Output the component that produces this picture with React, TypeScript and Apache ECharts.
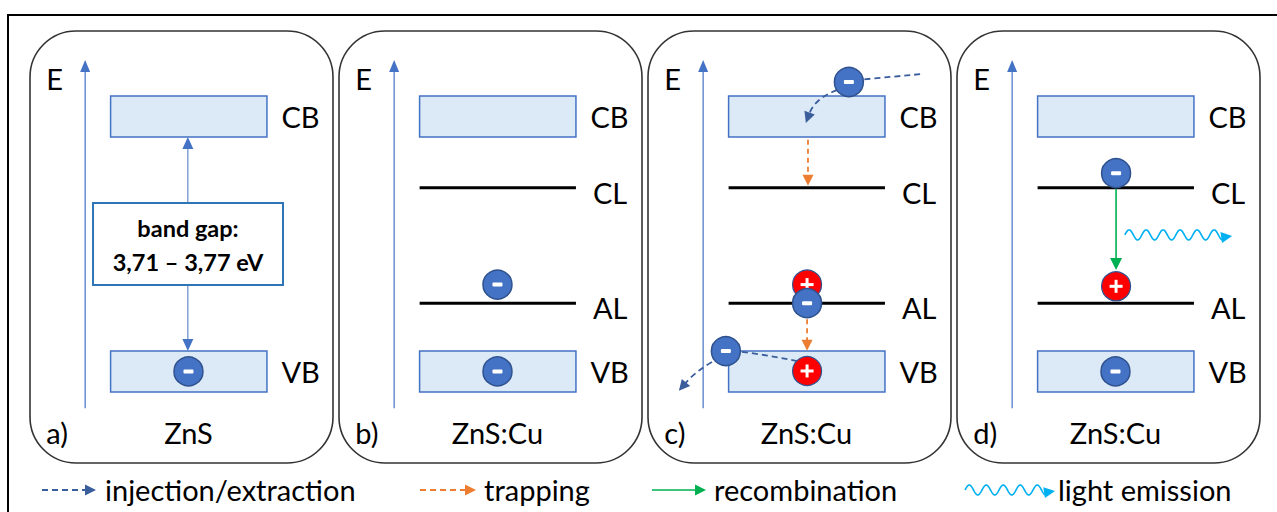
import React, { useEffect, useRef } from "react";
import * as echarts from "echarts";

// ---------------- data (diagram units: x 0..100 across a panel, E 0..100 bottom→top) ----------------
const panelTags = ["a)", "b)", "c)", "d)"];
const materials = ["ZnS", "ZnS:Cu", "ZnS:Cu", "ZnS:Cu"];
const bandNames = ["CB", "VB"];
const bandEnergies = [80.2, 21.2];
const bandHalfHeight = 4.75;
const levelNames = ["CL", "AL"];
const levelEnergies = [63.7, 37.0];
const dopedPanels = [1, 2, 3];
const stateSpan = [26.6, 78.2];
const stateLabelX = 83;
const energyAxisX = 18.2;
const energyAxisRange = [12.7, 93.3];
const energyLabel = "E";
const energyLabelPos = [5.4, 89.1];
const captionE = 7.0;
const tagX = 5.4;
const materialX = 52.3;

// carriers: [panel, x, E]
const electrons = [
  [0, 52.3, 21.2],
  [1, 52.3, 41.3],
  [1, 52.3, 21.2],
  [2, 66.3, 88.2],
  [2, 52.5, 37.0],
  [2, 25.7, 25.9],
  [3, 52.5, 67.1],
  [3, 52.3, 21.2],
];
const holes = [
  [2, 52.5, 41.3],
  [2, 52.5, 21.3],
  [3, 52.5, 40.9],
];

// band gap box in panel a: [x0, x1, E0, E1]
const gapBox = [20.8, 83.5, 41.2, 60.2];
const gapText = ["band gap:", "3,71 – 3,77 eV"];
const gapTextE = [54.4, 46.6];
// band gap arrows: [panel, x, Efrom, Eto]
const gapArrows = [
  [0, 52.1, 60.2, 75.45],
  [0, 52.1, 41.2, 25.95],
];

// injection / extraction (quadratic curves): [panel, x0, E0, cx, cE, x1, E1, arrowhead]
const injection = [
  [2, 89.8, 90.0, 80.5, 89.4, 71.0, 88.8, 0],
  [2, 62.4, 86.3, 55.1, 84.5, 52.1, 78.7, 1],
  [2, 49.2, 23.6, 40.0, 24.9, 30.4, 25.8, 0],
  [2, 21.1, 23.4, 15.5, 21.1, 10.2, 16.7, 1],
];
// trapping: [panel, x, Efrom, Eto]
const trapping = [
  [2, 52.8, 74.8, 64.2],
  [2, 52.5, 33.3, 26.0],
];
// recombination: [panel, x, Efrom, Eto]
const recombination = [[3, 52.5, 63.5, 44.7]];
// light emission: [panel, xFrom, xTo, E]
const lightEmission = [[3, 55.4, 90.8, 52.8]];

const legendNames = ["injection/extraction", "trapping", "recombination", "light emission"];

// ---------------- styles ----------------
const FONT = "Lato, 'Open Sans', sans-serif";
const C_BAND_FILL = "#DCE9F7";
const C_BLUE = "#4472C4";
const C_DARKBLUE = "#2F528F";
const C_INJ = "#3A5D9C";
const C_TRAP = "#ED7D31";
const C_REC = "#00B050";
const C_LIGHT = "#00B0F0";
const C_GAPBOX = "#2E75B6";

type Pt = [number, number];

function headPoly(tip: Pt, from: Pt, len: number, half: number): Pt[] {
  const dx = tip[0] - from[0];
  const dy = tip[1] - from[1];
  const L = Math.hypot(dx, dy) || 1;
  const ux = dx / L;
  const uy = dy / L;
  const bx = tip[0] - ux * len;
  const by = tip[1] - uy * len;
  return [
    [tip[0], tip[1]],
    [bx - uy * half, by + ux * half],
    [bx + uy * half, by - ux * half],
  ];
}

function arrowEls(a: Pt, b: Pt, color: string, lw: number, dash: number[] | null, len = 10, half = 5) {
  const dx = b[0] - a[0];
  const dy = b[1] - a[1];
  const L = Math.hypot(dx, dy) || 1;
  const end: Pt = [b[0] - (dx / L) * (len - 1), b[1] - (dy / L) * (len - 1)];
  return [
    {
      type: "line",
      shape: { x1: a[0], y1: a[1], x2: end[0], y2: end[1] },
      style: { stroke: color, lineWidth: lw, lineDash: dash || undefined, fill: null },
    },
    { type: "polygon", shape: { points: headPoly(b, a, len, half) }, style: { fill: color } },
  ];
}

function waveEls(x0: number, x1: number, y: number, color: string, period: number, amp: number) {
  const headLen = 11;
  const pts: Pt[] = [];
  const xe = x1 - headLen + 2;
  for (let x = x0; x <= xe; x += 0.5) {
    pts.push([x, y - amp * Math.sin(((x - x0) / period) * 2 * Math.PI)]);
  }
  const last = pts[pts.length - 1];
  return [
    { type: "polyline", shape: { points: pts }, style: { stroke: color, lineWidth: 1.6, fill: null } },
    { type: "polygon", shape: { points: headPoly([x1, y + 1], [last[0] - 4, last[1] - 2], headLen, 5.5) }, style: { fill: color } },
  ];
}

function text(x: number, y: number, t: string, size: number, align: string, weight = "normal") {
  return {
    type: "text",
    x,
    y,
    style: {
      text: t,
      font: `${weight} ${size}px ${FONT}`,
      fill: "#000",
      align,
      verticalAlign: "middle",
      textAlign: align,
      textVerticalAlign: "middle",
    },
  };
}

function electronEls(c: Pt) {
  return [
    { type: "circle", shape: { cx: c[0], cy: c[1], r: 14.5 }, style: { fill: C_BLUE, stroke: C_DARKBLUE, lineWidth: 1.5 } },
    { type: "rect", shape: { x: c[0] - 5, y: c[1] - 2, width: 10, height: 4, r: 1 }, style: { fill: "#fff" } },
  ];
}

function holeEls(c: Pt) {
  return [
    { type: "circle", shape: { cx: c[0], cy: c[1], r: 14.5 }, style: { fill: "#FF0000", stroke: C_DARKBLUE, lineWidth: 1.2 } },
    { type: "rect", shape: { x: c[0] - 6.5, y: c[1] - 1.5, width: 13, height: 3 }, style: { fill: "#fff" } },
    { type: "rect", shape: { x: c[0] - 1.5, y: c[1] - 6.5, width: 3, height: 13 }, style: { fill: "#fff" } },
  ];
}

function layer(panel: number, z: number, rows: any[], anchor: (r: any) => number[], draw: (r: any, api: any) => any[]) {
  return {
    type: "custom",
    coordinateSystem: "cartesian2d",
    xAxisIndex: panel,
    yAxisIndex: panel,
    z,
    silent: true,
    clip: false,
    data: rows.map(anchor),
    renderItem: (params: any, api: any) => ({ type: "group", children: draw(rows[params.dataIndex], api) }),
  };
}

function buildOption() {
  const grids = panelTags.map((_, i) => ({ left: 30 + 309 * i, top: 31, width: 303, height: 432 }));
  const xAxes = panelTags.map((_, i) => ({ type: "value", gridIndex: i, min: 0, max: 100, show: false }));
  const yAxes = panelTags.map((_, i) => ({ type: "value", gridIndex: i, min: 0, max: 100, show: false }));
  const series: any[] = [];

  panelTags.forEach((tag, p) => {
    // panel frame
    series.push(
      layer(p, 1, [[0, 0, 100, 100]], (r) => r, (r, api) => {
        const a = api.coord([r[0], r[3]]);
        const b = api.coord([r[2], r[1]]);
        return [
          {
            type: "rect",
            shape: { x: a[0], y: a[1], width: b[0] - a[0], height: b[1] - a[1], r: 46 },
            style: { fill: null, stroke: "#333", lineWidth: 1.6 },
          },
        ];
      })
    );
    // energy axis
    series.push(
      layer(p, 2, [[energyAxisX, energyAxisRange[0], energyAxisRange[1]]], (r) => [r[0], r[1]], (r, api) => {
        const a = api.coord([r[0], r[1]]);
        const b = api.coord([r[0], r[2]]);
        return arrowEls(a, b, C_BLUE, 1.2, null, 12, 5);
      })
    );
    // bands
    const bandRows = bandNames.map((n, j) => [stateSpan[0], stateSpan[1], bandEnergies[j]]);
    series.push(
      layer(p, 2, bandRows, (r) => [r[0], r[2]], (r, api) => {
        const a = api.coord([r[0], r[2] + bandHalfHeight]);
        const b = api.coord([r[1], r[2] - bandHalfHeight]);
        return [
          {
            type: "rect",
            shape: { x: a[0], y: a[1], width: b[0] - a[0], height: b[1] - a[1] },
            style: { fill: C_BAND_FILL, stroke: C_BLUE, lineWidth: 1.5 },
          },
        ];
      })
    );
    // levels
    const doped = dopedPanels.indexOf(p) >= 0;
    if (doped) {
      const levelRows = levelNames.map((n, j) => [stateSpan[0], stateSpan[1], levelEnergies[j]]);
      series.push(
        layer(p, 3, levelRows, (r) => [r[0], r[2]], (r, api) => {
          const a = api.coord([r[0], r[2]]);
          const b = api.coord([r[1], r[2]]);
          return [{ type: "line", shape: { x1: a[0], y1: a[1], x2: b[0], y2: b[1] }, style: { stroke: "#000", lineWidth: 3 } }];
        })
      );
    }
    // texts
    const textRows: any[] = [
      { x: energyLabelPos[0], e: energyLabelPos[1], t: energyLabel, align: "left", size: 29 },
      { x: tagX, e: captionE, t: tag, align: "left", size: 29 },
      { x: materialX, e: captionE, t: materials[p], align: "center", size: 29 },
    ];
    bandNames.forEach((n, j) => textRows.push({ x: stateLabelX, e: bandEnergies[j], t: n, align: "left", size: 29 }));
    if (doped) levelNames.forEach((n, j) => textRows.push({ x: stateLabelX + 0.8, e: levelEnergies[j] - 1, t: n, align: "left", size: 29 }));
    series.push(
      layer(p, 6, textRows, (r) => [r.x, r.e], (r, api) => {
        const c = api.coord([r.x, r.e]);
        return [text(c[0], c[1], r.t, r.size, r.align)];
      })
    );
    // band gap box & arrows
    if (p === 0) {
      series.push(
        layer(p, 4, gapArrows.filter((g) => g[0] === p), (r) => [r[1], r[2]], (r, api) => {
          return arrowEls(api.coord([r[1], r[2]]), api.coord([r[1], r[3]]), C_BLUE, 1, null, 12, 5.5);
        })
      );
      series.push(
        layer(p, 5, [gapBox], (r) => [r[0], r[2]], (r, api) => {
          const a = api.coord([r[0], r[3]]);
          const b = api.coord([r[1], r[2]]);
          const mid = (r[0] + r[1]) / 2;
          return [
            {
              type: "rect",
              shape: { x: a[0], y: a[1], width: b[0] - a[0], height: b[1] - a[1] },
              style: { fill: "#fff", stroke: C_GAPBOX, lineWidth: 2 },
            },
            ...gapText.map((t, k) => {
              const c = api.coord([mid, gapTextE[k]]);
              return text(c[0], c[1], t, 23.5, "center", "bold");
            }),
          ];
        })
      );
    }
    // injection / extraction
    const inj = injection.filter((r) => r[0] === p);
    if (inj.length) {
      series.push(
        layer(p, 4, inj, (r) => [r[1], r[2]], (r, api) => {
          const a = api.coord([r[1], r[2]]);
          const c = api.coord([r[3], r[4]]);
          const b = api.coord([r[5], r[6]]);
          const els: any[] = [];
          let end: Pt = b;
          if (r[7]) {
            const dx = b[0] - c[0];
            const dy = b[1] - c[1];
            const L = Math.hypot(dx, dy) || 1;
            end = [b[0] - (dx / L) * 9, b[1] - (dy / L) * 9];
            els.push({ type: "polygon", shape: { points: headPoly(b, c, 11, 5.5) }, style: { fill: C_INJ } });
          }
          els.unshift({
            type: "bezierCurve",
            shape: { x1: a[0], y1: a[1], x2: end[0], y2: end[1], cpx1: c[0], cpy1: c[1] },
            style: { stroke: C_INJ, lineWidth: 1.8, lineDash: [6, 4], fill: null },
          });
          return els;
        })
      );
    }
    // trapping
    const trp = trapping.filter((r) => r[0] === p);
    if (trp.length) {
      series.push(
        layer(p, 4, trp, (r) => [r[1], r[2]], (r, api) =>
          arrowEls(api.coord([r[1], r[2]]), api.coord([r[1], r[3]]), C_TRAP, 1.8, [5, 4], 11, 5.5)
        )
      );
    }
    // recombination
    const rec = recombination.filter((r) => r[0] === p);
    if (rec.length) {
      series.push(
        layer(p, 4, rec, (r) => [r[1], r[2]], (r, api) =>
          arrowEls(api.coord([r[1], r[2]]), api.coord([r[1], r[3]]), C_REC, 1.6, null, 12, 6)
        )
      );
    }
    // light emission
    const lgt = lightEmission.filter((r) => r[0] === p);
    if (lgt.length) {
      series.push(
        layer(p, 4, lgt, (r) => [r[1], r[3]], (r, api) => {
          const a = api.coord([r[1], r[3]]);
          const b = api.coord([r[2], r[3]]);
          return waveEls(a[0], b[0], a[1], C_LIGHT, 17, 5);
        })
      );
    }
    // holes then electrons
    const hs = holes.filter((r) => r[0] === p);
    if (hs.length) {
      series.push(layer(p, 5, hs, (r) => [r[1], r[2]], (r, api) => holeEls(api.coord([r[1], r[2]]))));
    }
    const es = electrons.filter((r) => r[0] === p);
    if (es.length) {
      series.push(layer(p, 6, es, (r) => [r[1], r[2]], (r, api) => electronEls(api.coord([r[1], r[2]]))));
    }
  });

  // legend (key) drawn as graphic elements
  const ly = 490;
  const legendEls: any[] = [
    ...arrowEls([42, ly], [96, ly], C_INJ, 1.8, [6, 4], 11, 5.5),
    text(105, ly - 1, legendNames[0], 29, "left"),
    ...arrowEls([420, ly], [476, ly], C_TRAP, 1.8, [6, 4], 11, 5.5),
    text(484, ly - 1, legendNames[1], 29, "left"),
    ...arrowEls([652, ly], [706, ly], C_REC, 1.6, null, 11, 5.5),
    text(714, ly - 1, legendNames[2], 29, "left"),
    ...waveEls(965, 1055, ly, C_LIGHT, 17, 5),
    text(1058, ly - 1, legendNames[3], 29, "left"),
  ];

  return {
    animation: false,
    backgroundColor: "#fff",
    grid: grids,
    xAxis: xAxes,
    yAxis: yAxes,
    series,
    graphic: [
      {
        type: "rect",
        shape: { x: 8, y: 15, width: 1300, height: 530 },
        style: { fill: null, stroke: "#000", lineWidth: 2 },
        z: 0,
      },
      { type: "group", children: legendEls, z: 10 },
    ],
  };
}

export default function App() {
  const ref = useRef<HTMLDivElement>(null);
  useEffect(() => {
    const chart = echarts.init(ref.current!, undefined, { renderer: "svg" });
    chart.setOption(buildOption() as any);
    return () => chart.dispose();
  }, []);
  return (
    <div
      ref={ref}
      style={{ position: "absolute", left: 0, top: 0, width: 1277, height: 512, background: "#fff" }}
    />
  );
}
